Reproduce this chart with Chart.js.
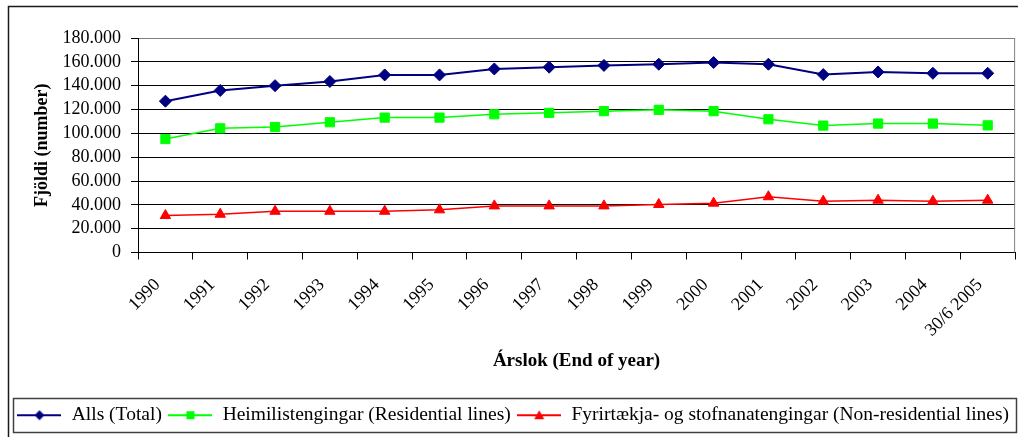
<!DOCTYPE html>
<html>
<head>
<meta charset="utf-8">
<script src="https://cdn.jsdelivr.net/npm/chart.js@4"></script>
<style>
  html, body { margin: 0; padding: 0; background: #fff; }
  #wrap { width: 1018px; height: 437px; position: relative; }
</style>
</head>
<body>
<div id="wrap"><canvas id="lines"></canvas></div>
<script>
const years = ['1990', '1991', '1992', '1993', '1994', '1995', '1996', '1997', '1998', '1999', '2000', '2001', '2002', '2003', '2004', '30/6 2005'];
const total = [127000, 136000, 140000, 143500, 149000, 149000, 154000, 155500, 157000, 158000, 159400, 158000, 149300, 151500, 150400, 150400];
const residential = [95200, 104200, 105300, 109300, 113200, 113200, 116000, 117200, 118600, 119700, 118600, 111800, 106500, 108200, 108200, 106700];
const nonResidential = [31000, 32100, 34600, 34600, 34600, 35800, 39100, 39100, 39100, 40300, 41400, 46800, 43100, 43900, 43100, 43900];
const yTicks = [0, 20000, 40000, 60000, 80000, 100000, 120000, 140000, 160000, 180000];

const serif = 'Liberation Serif';

// small line+marker icons for the legend
function legendIcon(color, style) {
    const c = document.createElement('canvas');
    c.width = 44; c.height = 14;
    const g = c.getContext('2d');
    g.strokeStyle = color; g.fillStyle = color; g.lineWidth = 2;
    g.beginPath(); g.moveTo(0, 7); g.lineTo(44, 7); g.stroke();
    g.beginPath();
    if (style === 'diamond') {
        g.moveTo(22, 2); g.lineTo(27, 7); g.lineTo(22, 12); g.lineTo(17, 7);
    } else if (style === 'square') {
        g.rect(18, 3, 8, 8);
    } else {
        g.moveTo(22, 2); g.lineTo(27, 11); g.lineTo(17, 11);
    }
    g.closePath(); g.fill();
    return c;
}
const icons = [
    legendIcon('#000080', 'diamond'),
    legendIcon('#00ff00', 'square'),
    legendIcon('#ff0000', 'triangle')
];

const framePlugin = {
    id: 'frame',
    beforeDraw(chart) {
        const g = chart.ctx;
        g.save();
        g.fillStyle = '#fff';
        g.fillRect(0, 0, chart.width, chart.height);
        g.strokeStyle = '#1a1a1a';
        g.lineWidth = 1.5;
        g.strokeRect(8.5, 6.5, chart.width + 10, chart.height + 10);
        g.restore();
    },
    afterDraw(chart) {
        const a = chart.chartArea;
        const g = chart.ctx;
        g.save();
        g.strokeStyle = '#808080';
        g.lineWidth = 1;
        g.beginPath();
        g.moveTo(a.right - 0.5, a.top);
        g.lineTo(a.right - 0.5, a.bottom);
        g.stroke();
        // legend border
        g.strokeStyle = '#404040';
        g.lineWidth = 1.5;
        g.strokeRect(13.5, 398.5, 1003, 34);
        g.restore();
    }
};

new Chart(document.getElementById('lines'), {
    type: 'line',
    data: {
        labels: years,
        datasets: [
            {
                label: 'Alls (Total)',
                data: total,
                borderColor: '#000080',
                backgroundColor: '#000080',
                borderWidth: 2,
                pointStyle: 'rectRot',
                pointRadius: 6,
                pointBorderWidth: 1
            },
            {
                label: 'Heimilistengingar (Residential lines)',
                data: residential,
                borderColor: '#00ff00',
                backgroundColor: '#00ff00',
                borderWidth: 1.5,
                pointStyle: 'rect',
                pointRadius: 6.5,
                pointBorderWidth: 1
            },
            {
                label: 'Fyrirtækja- og stofnanatengingar (Non-residential lines)',
                data: nonResidential,
                borderColor: '#ff0000',
                backgroundColor: '#ff0000',
                borderWidth: 1.5,
                pointStyle: 'triangle',
                pointRadius: 6,
                pointBorderWidth: 1
            }
        ]
    },
    options: {
        responsive: true,
        maintainAspectRatio: false,
        animation: false,
        layout: { autoPadding: false, padding: { top: 38, left: 9, right: 1, bottom: 2 } },
        plugins: {
            tooltip: { enabled: false },
            legend: {
                position: 'bottom',
                labels: {
                    usePointStyle: true,
                    pointStyleWidth: 45,
                    padding: 6,
                    color: '#000',
                    font: { family: serif, size: 19.5 },
                    generateLabels(chart) {
                        const items = Chart.defaults.plugins.legend.labels.generateLabels(chart);
                        items.forEach((it, i) => { it.pointStyle = icons[i]; });
                        return items;
                    }
                }
            }
        },
        scales: {
            x: {
                offset: true,
                afterFit(scale) { scale.height = 147; },
                grid: { offset: true, drawOnChartArea: false, tickLength: 7, color: '#000' },
                border: { color: '#000', width: 1 },
                ticks: {
                    color: '#000',
                    minRotation: 45,
                    maxRotation: 45,
                    autoSkip: false,
                    padding: 15,
                    labelOffset: -8,
                    font: { family: serif, size: 18 }
                },
                title: {
                    display: true,
                    text: 'Árslok (End of year)',
                    color: '#000',
                    font: { family: serif, size: 19, weight: 'bold' },
                    padding: { top: 0, bottom: 27 }
                }
            },
            y: {
                min: 0,
                max: 180000,
                afterFit(scale) { scale.width = 129; },
                afterBuildTicks(scale) { scale.ticks = yTicks.map(v => ({ value: v })); },
                grid: {
                    color: ctx => (ctx.tick && ctx.tick.value === 180000) ? '#808080' : '#000',
                    tickColor: '#000',
                    tickLength: 7
                },
                border: { color: '#000', width: 1 },
                ticks: {
                    autoSkip: false,
                    color: '#000',
                    padding: 10,
                    font: { family: serif, size: 18 },
                    callback: v => String(v).replace(/\B(?=(\d{3})+(?!\d))/g, '.')
                },
                title: {
                    display: true,
                    text: 'Fjöldi (number)',
                    color: '#000',
                    font: { family: serif, size: 18, weight: 'bold' },
                    padding: { top: 23, bottom: 0 }
                }
            }
        }
    },
    plugins: [framePlugin]
});
</script>
</body>
</html>
